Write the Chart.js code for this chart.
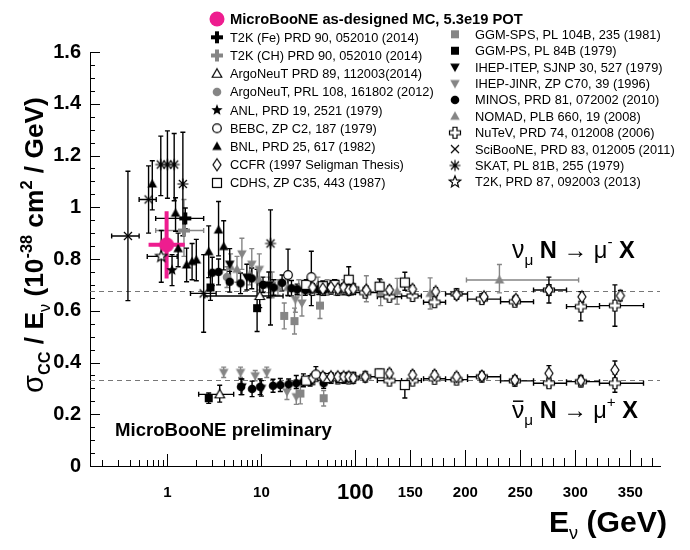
<!DOCTYPE html>
<html>
<head>
<meta charset="utf-8">
<script src="https://cdn.jsdelivr.net/npm/chart.js@4.4.1/dist/chart.umd.min.js"></script>
<style>
  body { margin: 0; background: #fff; }
  canvas { display: block; }
</style>
</head>
<body>
<canvas id="xsec" width="690" height="550"></canvas>
<script>
// rows: [E (GeV), sigma/E, err down, err up, E low, E high]
const UB = [[0.98, 0.855, 0.13, 0.13, 0.63, 1.53]]
const T2K_FE = [[1.55, 0.957, 0.04, 0.04, 0.75, 2.43]]
const T2K_CH = [[1.5, 0.91, 0.10, 0.12, 0.75, 2.43]]
const ARGONEUT_PRD = [[9.6, 0.657, 0.045, 0.05, 2.5, 17], [3.6, 0.277, 0.03, 0.035, 2.15, 5.07]]
const ARGONEUT_PRL = [[4.3, 0.73, 0.04, 0.04]]
const ANL = [[1.12, 0.757, 0.06, 0.06]]
const BEBC = [[19.2, 0.738, 0.08, 0.10], [34, 0.73, 0.11, 0.10], [38, 0.354, 0.025, 0.03]]
const BNL = [[0.69, 1.09, 0.10, 0.09], [1.22, 0.977, 0.07, 0.06], [1.3, 0.84, 0.07, 0.06],
    [1.6, 0.777, 0.065, 0.065], [1.83, 0.79, 0.07, 0.07], [2.03, 0.796, 0.08, 0.08],
    [2.75, 0.828, 0.10, 0.10], [3.5, 0.912, 0.10, 0.11], [3.97, 0.848, 0.09, 0.10]]
const CCFR_NU = [[35, 0.69, 0.015, 0.015], [45, 0.685, 0.015, 0.015], [55, 0.69, 0.015, 0.015],
    [65, 0.685, 0.015, 0.015], [75, 0.69, 0.015, 0.015], [85, 0.68, 0.015, 0.015],
    [95, 0.685, 0.015, 0.015], [110, 0.68, 0.015, 0.015], [131, 0.68, 0.015, 0.015],
    [152, 0.683, 0.015, 0.015], [173, 0.674, 0.015, 0.015], [192, 0.661, 0.015, 0.015],
    [217, 0.654, 0.015, 0.015], [246, 0.644, 0.015, 0.015], [276, 0.68, 0.02, 0.02],
    [306, 0.654, 0.02, 0.02], [341, 0.658, 0.02, 0.02]]
const CCFR_NUBAR = [[35, 0.34, 0.012, 0.012], [45, 0.345, 0.012, 0.012], [55, 0.345, 0.012, 0.012],
    [65, 0.345, 0.012, 0.012], [75, 0.345, 0.012, 0.012], [85, 0.345, 0.012, 0.012],
    [95, 0.34, 0.012, 0.012], [109, 0.345, 0.012, 0.012], [131, 0.358, 0.015, 0.015],
    [152, 0.352, 0.015, 0.015], [172, 0.352, 0.015, 0.015], [192, 0.345, 0.015, 0.015],
    [215, 0.348, 0.015, 0.015], [245, 0.332, 0.015, 0.015], [276, 0.358, 0.03, 0.03],
    [305, 0.33, 0.02, 0.02], [336, 0.371, 0.035, 0.035]]
const CDHS = [[30, 0.70, 0.02, 0.02], [45, 0.695, 0.02, 0.02], [60, 0.70, 0.02, 0.02],
    [85, 0.72, 0.03, 0.05], [122, 0.693, 0.03, 0.03], [145, 0.709, 0.03, 0.04],
    [30, 0.33, 0.015, 0.015], [50, 0.34, 0.015, 0.015], [70, 0.34, 0.015, 0.015],
    [90, 0.345, 0.015, 0.015], [122, 0.358, 0.015, 0.015], [145, 0.313, 0.05, 0.015]]
const GGM_SPS = [[17.5, 0.58, 0.05, 0.05], [22.5, 0.56, 0.05, 0.05], [42, 0.62, 0.05, 0.05],
    [26, 0.28, 0.04, 0.04], [46, 0.262, 0.03, 0.03]]
const GGM_PS = [[2.87, 0.69, 0.05, 0.05], [9, 0.61, 0.09, 0.15], [2.75, 0.262, 0.02, 0.02]]
const IHEP_ITEP = [[4.6, 0.78, 0.06, 0.06], [7, 0.73, 0.05, 0.05], [12, 0.70, 0.05, 0.05],
    [6.2, 0.306, 0.03, 0.03], [10, 0.30, 0.03, 0.03]]
const IHEP_JINR = [[6.2, 0.82, 0.06, 0.06], [7.9, 0.78, 0.06, 0.06], [9.5, 0.76, 0.06, 0.06],
    [13, 0.70, 0.05, 0.05], [23, 0.644, 0.05, 0.05], [27, 0.63, 0.05, 0.05],
    [3.97, 0.362, 0.02, 0.02], [6, 0.362, 0.02, 0.02], [8.6, 0.349, 0.02, 0.02],
    [11.4, 0.362, 0.02, 0.02], [18.7, 0.287, 0.03, 0.03], [23.5, 0.268, 0.03, 0.03]]
const MINOS_NU = [[3.0, 0.747, 0.05, 0.06], [3.5, 0.75, 0.05, 0.05], [4.6, 0.712, 0.04, 0.04],
    [6, 0.706, 0.04, 0.04], [7.9, 0.725, 0.04, 0.04], [10.4, 0.70, 0.03, 0.03],
    [13.5, 0.69, 0.03, 0.03], [16.6, 0.708, 0.03, 0.03], [20.9, 0.687, 0.03, 0.03],
    [24, 0.683, 0.02, 0.02], [29.3, 0.68, 0.02, 0.02], [34, 0.683, 0.02, 0.02],
    [40.8, 0.683, 0.02, 0.02], [46, 0.68, 0.02, 0.02]]
const MINOS_NUBAR = [[6.07, 0.306, 0.03, 0.03], [7.96, 0.298, 0.03, 0.03], [9.7, 0.306, 0.03, 0.03],
    [13.3, 0.31, 0.025, 0.025], [15.9, 0.313, 0.025, 0.025], [19.5, 0.316, 0.02, 0.02],
    [23.5, 0.32, 0.02, 0.03], [28, 0.326, 0.02, 0.03], [33, 0.329, 0.02, 0.02], [46, 0.32, 0.02, 0.03]]
const NOMAD = [[4.7, 0.77, 0.05, 0.05], [5.5, 0.76, 0.05, 0.05], [7.5, 0.74, 0.04, 0.04],
    [9.5, 0.72, 0.04, 0.04], [12, 0.70, 0.03, 0.03], [15, 0.69, 0.03, 0.03], [19, 0.69, 0.03, 0.03],
    [25, 0.69, 0.03, 0.03], [32, 0.695, 0.03, 0.03], [40, 0.70, 0.03, 0.03], [50, 0.69, 0.03, 0.03],
    [62, 0.69, 0.03, 0.03], [75, 0.69, 0.03, 0.03], [90, 0.69, 0.03, 0.03], [110, 0.685, 0.05, 0.05],
    [123, 0.67, 0.05, 0.05], [138, 0.675, 0.05, 0.05], [168, 0.667, 0.06, 0.06],
    [231, 0.719, 0.05, 0.06, 201, 303]]
const NUTEV_NU = [[35, 0.68, 0.015, 0.015], [45, 0.68, 0.015, 0.015], [55, 0.685, 0.015, 0.015],
    [65, 0.68, 0.015, 0.015], [75, 0.685, 0.015, 0.015], [85, 0.68, 0.015, 0.015],
    [95, 0.685, 0.015, 0.015], [109, 0.67, 0.015, 0.015, 100, 120], [131, 0.654, 0.015, 0.015, 120, 142],
    [152, 0.657, 0.015, 0.015, 142, 160], [172, 0.633, 0.015, 0.015, 162, 182],
    [192, 0.665, 0.015, 0.015, 182, 202], [215, 0.645, 0.015, 0.015, 202, 232],
    [245, 0.635, 0.015, 0.015, 232, 262], [276, 0.68, 0.05, 0.05, 262, 292],
    [305, 0.616, 0.055, 0.058, 292, 322], [336, 0.62, 0.08, 0.08, 322, 362]]
const NUTEV_NUBAR = [[35, 0.335, 0.012, 0.012], [45, 0.34, 0.012, 0.012], [55, 0.34, 0.012, 0.012],
    [65, 0.338, 0.012, 0.012], [75, 0.34, 0.012, 0.012], [85, 0.338, 0.012, 0.012],
    [95, 0.34, 0.012, 0.012], [109, 0.345, 0.012, 0.012, 100, 120], [131, 0.33, 0.012, 0.012, 120, 142],
    [152, 0.33, 0.012, 0.012, 142, 160], [172, 0.337, 0.012, 0.012, 162, 182],
    [192, 0.334, 0.012, 0.012, 182, 202], [215, 0.345, 0.012, 0.012, 202, 232],
    [245, 0.329, 0.012, 0.012, 232, 262], [276, 0.32, 0.015, 0.015, 262, 292],
    [305, 0.326, 0.015, 0.015, 292, 322], [336, 0.32, 0.035, 0.035, 322, 362]]
const SCIBOONE = [[0.38, 0.889, 0.25, 0.25, 0.255, 0.5], [0.63, 1.03, 0.13, 0.13, 0.5, 0.76],
    [2.43, 0.667, 0.15, 0.15, 1.76, 3.3]]
const SKAT = [[0.85, 1.165, 0.12, 0.11], [1.0, 1.165, 0.13, 0.13], [1.18, 1.165, 0.14, 0.12],
    [1.46, 1.09, 0.2, 0.2], [12.5, 0.86, 0.315, 0.13]]
const T2K_2013 = [[0.86, 0.81, 0.1, 0.1, 0.61, 1.27]]

const NU_AVG = 0.677
const NUBAR_AVG = 0.334

const X_LABELS = [1, 10, 100, 150, 200, 250, 300, 350]
const Y_LABEL_STEP = 0.2

const X_MIN = 0.15, X_MAX = 377
const GEV_PER_DECADE = 85.45   // width of one log decade, in GeV of the linear part

const FF = '"Liberation Sans", Arial, Helvetica, sans-serif'
const BLACK = '#000'
const GRAY = '#858585'
const PINK = '#ee1d8f'

// log below 100 GeV, linear above
function fwdE(e) { return e <= 100 ? Math.log10(e) : 2 + (e - 100) / GEV_PER_DECADE }
function invE(u) { return u <= 2 ? Math.pow(10, u) : 100 + (u - 2) * GEV_PER_DECADE }

let xTicks = []
for (let d = -1; d <= 1; d++) {
    for (let m = 1; m <= 9; m++) {
        const v = +(m * Math.pow(10, d)).toPrecision(3)
        if (v >= X_MIN) xTicks.push(v)
    }
}
for (let v = 100; v <= 370; v += 10) xTicks.push(v)

let yTicks = []
for (let i = 0; i <= 32; i++) yTicks.push(+(i * 0.05).toFixed(2))

class HybridScale extends Chart.Scale {
    determineDataLimits() { this.min = this.options.min; this.max = this.options.max }
    buildTicks() { return xTicks.map(v => ({ value: v, major: X_LABELS.includes(v) })) }
    getLabelForValue(v) { return String(v) }
    configure() {
        super.configure()
        this._u0 = fwdE(this.min)
        this._u1 = fwdE(this.max)
    }
    getPixelForValue(v) { return this.getPixelForDecimal((fwdE(v) - this._u0) / (this._u1 - this._u0)) }
    getValueForPixel(p) { return invE(this._u0 + this.getDecimalForPixel(p) * (this._u1 - this._u0)) }
}
HybridScale.id = 'hybrid'
HybridScale.defaults = {}
Chart.register(HybridScale)

// marker images
function marker(kind, color) {
    const s = 18, c = document.createElement('canvas')
    c.width = s; c.height = s
    const g = c.getContext('2d')
    g.translate(s / 2, s / 2)
    g.fillStyle = color; g.strokeStyle = color; g.lineWidth = 1.2
    const poly = (pts, open) => {
        g.beginPath()
        pts.forEach((p, i) => i ? g.lineTo(p[0], p[1]) : g.moveTo(p[0], p[1]))
        g.closePath()
        if (open) { g.fillStyle = '#fff'; g.fill(); g.stroke() } else g.fill()
    }
    const star = () => {
        let p = []
        for (let i = 0; i < 10; i++) {
            const r = i % 2 ? 2.6 : 6, a = -Math.PI / 2 + i * Math.PI / 5
            p.push([r * Math.cos(a), r * Math.sin(a)])
        }
        return p
    }
    if (kind == 'big') { g.beginPath(); g.arc(0, 0, 7.5, 0, 2 * Math.PI); g.fill() }
    if (kind == 'circle') { g.beginPath(); g.arc(0, 0, 4.3, 0, 2 * Math.PI); g.fill() }
    if (kind == 'ocircle') { g.beginPath(); g.arc(0, 0, 4.3, 0, 2 * Math.PI); g.fillStyle = '#fff'; g.fill(); g.stroke() }
    if (kind == 'square') g.fillRect(-4, -4, 8, 8)
    if (kind == 'osquare') { g.fillStyle = '#fff'; g.fillRect(-4.5, -4.5, 9, 9); g.strokeRect(-4.5, -4.5, 9, 9) }
    if (kind == 'tri') poly([[0, -5], [4.8, 3.5], [-4.8, 3.5]])
    if (kind == 'otri') poly([[0, -5], [4.8, 3.5], [-4.8, 3.5]], true)
    if (kind == 'dtri') poly([[0, 5], [4.8, -3.5], [-4.8, -3.5]])
    if (kind == 'diamond') poly([[0, -6], [4, 0], [0, 6], [-4, 0]], true)
    if (kind == 'star5') poly(star())
    if (kind == 'ostar5') poly(star(), true)
    if (kind == 'plus') { g.fillRect(-6, -2, 12, 4); g.fillRect(-2, -6, 4, 12) }
    if (kind == 'oplus') poly([[-2, -5.5], [2, -5.5], [2, -2], [5.5, -2], [5.5, 2], [2, 2], [2, 5.5],
        [-2, 5.5], [-2, 2], [-5.5, 2], [-5.5, -2], [-2, -2]], true)
    if (kind == 'x' || kind == 'ast') {
        g.beginPath()
        g.moveTo(-4, -4); g.lineTo(4, 4); g.moveTo(-4, 4); g.lineTo(4, -4)
        if (kind == 'ast') { g.moveTo(-5.5, 0); g.lineTo(5.5, 0); g.moveTo(0, -5.5); g.lineTo(0, 5.5) }
        g.stroke()
    }
    return c
}

// [label, rows, marker, colour, legend column, legend row]
const experiments = [
    ['MicroBooNE as-designed MC, 5.3e19 POT', UB, 'big', PINK, 0, 0],
    ['T2K (Fe) PRD 90, 052010 (2014)', T2K_FE, 'plus', BLACK, 0, 1],
    ['ArgoNeuT PRD 89, 112003(2014)', ARGONEUT_PRD, 'otri', BLACK, 0, 3],
    ['ANL, PRD 19, 2521 (1979)', ANL, 'star5', BLACK, 0, 5],
    ['BEBC, ZP C2, 187 (1979)', BEBC, 'ocircle', BLACK, 0, 6],
    ['BNL, PRD 25, 617 (1982)', BNL, 'tri', BLACK, 0, 7],
    ['CCFR (1997 Seligman Thesis)', CCFR_NU.concat(CCFR_NUBAR), 'diamond', BLACK, 0, 8],
    ['CDHS, ZP C35, 443 (1987)', CDHS, 'osquare', BLACK, 0, 9],
    ['GGM-PS, PL 84B (1979)', GGM_PS, 'square', BLACK, 1, 1],
    ['IHEP-ITEP, SJNP 30, 527 (1979)', IHEP_ITEP, 'dtri', BLACK, 1, 2],
    ['MINOS, PRD 81, 072002 (2010)', MINOS_NU.concat(MINOS_NUBAR), 'circle', BLACK, 1, 4],
    ['NuTeV, PRD 74, 012008 (2006)', NUTEV_NU.concat(NUTEV_NUBAR), 'oplus', BLACK, 1, 6],
    ['SciBooNE, PRD 83, 012005 (2011)', SCIBOONE, 'x', BLACK, 1, 7],
    ['SKAT, PL 81B, 255 (1979)', SKAT, 'ast', BLACK, 1, 8],
    ['T2K, PRD 87, 092003 (2013)', T2K_2013, 'ostar5', BLACK, 1, 9],
    ['T2K (CH) PRD 90, 052010 (2014)', T2K_CH, 'plus', GRAY, 0, 2],
    ['ArgoNeuT, PRL 108, 161802 (2012)', ARGONEUT_PRL, 'circle', GRAY, 0, 4],
    ['GGM-SPS, PL 104B, 235 (1981)', GGM_SPS, 'square', GRAY, 1, 0],
    ['IHEP-JINR, ZP C70, 39 (1996)', IHEP_JINR, 'dtri', GRAY, 1, 3],
    ['NOMAD, PLB 660, 19 (2008)', NOMAD, 'tri', GRAY, 1, 5]
]

const datasets = experiments.map(e => ({
    label: e[0],
    rows: e[1],
    data: e[1].map(r => ({ x: r[0], y: r[1] })),
    pointStyle: marker(e[2], e[3]),
    pointRadius: 4,
    showLine: false,
    color: e[3],
    legendCol: e[4],
    legendRow: e[5]
}))

// text with sub/superscripts, fitted to a width
function richWidth(ctx, segs, base) {
    let w = 0
    segs.forEach(s => {
        ctx.font = (s.b ? 'bold ' : '') + (base * (s.s || 1)) + 'px ' + FF
        w += ctx.measureText(s.t).width
    })
    return w
}
function drawRich(ctx, segs, base, x, y, width) {
    if (width) base = base * width / richWidth(ctx, segs, base)
    ctx.textAlign = 'left'
    ctx.textBaseline = 'alphabetic'
    segs.forEach(s => {
        const size = base * (s.s || 1)
        ctx.font = (s.b ? 'bold ' : '') + size + 'px ' + FF
        const w = ctx.measureText(s.t).width
        const yy = y + (s.dy || 0) * base
        ctx.fillText(s.t, x, yy)
        if (s.bar) {
            ctx.lineWidth = 1.5
            ctx.beginPath(); ctx.moveTo(x + 1, yy - size * 0.68); ctx.lineTo(x + w - 1, yy - size * 0.68); ctx.stroke()
        }
        x += w
    })
}
function fitFont(ctx, text, bold, width) {
    ctx.font = (bold ? 'bold ' : '') + '20px ' + FF
    return 20 * width / ctx.measureText(text).width
}

function errorBars(ctx, x, y, rows, color, w, cap) {
    ctx.strokeStyle = color
    ctx.lineWidth = w
    ctx.beginPath()
    rows.forEach(r => {
        const px = x.getPixelForValue(r[0]), py = y.getPixelForValue(r[1])
        const y0 = y.getPixelForValue(r[1] - r[2]), y1 = y.getPixelForValue(r[1] + r[3])
        ctx.moveTo(px, y0); ctx.lineTo(px, y1)
        if (cap) {
            ctx.moveTo(px - cap, y0); ctx.lineTo(px + cap, y0)
            ctx.moveTo(px - cap, y1); ctx.lineTo(px + cap, y1)
        }
        if (r[4] != null) {
            const x0 = x.getPixelForValue(r[4]), x1 = x.getPixelForValue(r[5])
            ctx.moveTo(x0, py); ctx.lineTo(x1, py)
            if (cap) {
                ctx.moveTo(x0, py - cap); ctx.lineTo(x0, py + cap)
                ctx.moveTo(x1, py - cap); ctx.lineTo(x1, py + cap)
            }
        }
    })
    ctx.stroke()
}

const decorations = {
    id: 'decorations',
    beforeDatasetsDraw(chart) {
        const ctx = chart.ctx, a = chart.chartArea, x = chart.scales.x, y = chart.scales.y
        ctx.save()
        ctx.strokeStyle = '#777'
        ctx.lineWidth = 1
        ctx.setLineDash([5, 4])
        ctx.beginPath()
        ;[NU_AVG, NUBAR_AVG].forEach(v => {
            const py = Math.round(y.getPixelForValue(v)) + 0.5
            ctx.moveTo(a.left, py); ctx.lineTo(a.right, py)
        })
        ctx.stroke()
        ctx.setLineDash([])
        for (let i = chart.data.datasets.length - 1; i >= 0; i--) {
            const ds = chart.data.datasets[i]
            if (ds.color == PINK) errorBars(ctx, x, y, ds.rows, PINK, 4, 0)
            else errorBars(ctx, x, y, ds.rows, ds.color, 1.4, 2.5)
        }
        ctx.restore()
    },
    afterDraw(chart) {
        const ctx = chart.ctx, a = chart.chartArea, x = chart.scales.x, y = chart.scales.y
        ctx.save()
        // inward tick marks
        ctx.strokeStyle = '#000'
        ctx.lineWidth = 1
        ctx.beginPath()
        x.ticks.forEach(t => {
            const px = Math.round(x.getPixelForValue(t.value)) + 0.5
            const len = t.value >= 100 ? (t.major ? 16 : 8) : (t.major ? 12 : 6)
            ctx.moveTo(px, a.bottom); ctx.lineTo(px, a.bottom - len)
        })
        y.ticks.forEach(t => {
            const py = Math.round(y.getPixelForValue(t.value)) + 0.5
            const major = Math.round(t.value * 100) % Math.round(Y_LABEL_STEP * 100) == 0
            ctx.moveTo(a.left, py); ctx.lineTo(a.left + (major ? 10 : 5), py)
        })
        ctx.stroke()

        // x tick labels
        ctx.fillStyle = '#000'
        ctx.textAlign = 'center'
        ctx.textBaseline = 'alphabetic'
        X_LABELS.forEach(v => {
            ctx.font = 'bold ' + (v == 100 ? 22 : 15) + 'px ' + FF
            ctx.fillText(String(v), x.getPixelForValue(v), v == 100 ? 499 : 497)
        })

        // axis titles
        drawRich(ctx, [{ t: 'E', b: true }, { t: 'ν', s: 0.6, dy: 0.22 }, { t: ' (GeV)', b: true }], 29, 549, 532, 118)
        ctx.save()
        ctx.translate(43, 245)
        ctx.rotate(-Math.PI / 2)
        const ySegs = [{ t: 'σ', s: 1.1 }, { t: 'CC', s: 0.62, b: true, dy: 0.25 }, { t: ' / E', b: true },
            { t: 'ν', s: 0.62, dy: 0.25 }, { t: ' (10', b: true }, { t: '-38', s: 0.62, b: true, dy: -0.42 },
            { t: ' cm', b: true }, { t: '2', s: 0.62, b: true, dy: -0.42 }, { t: ' / GeV)', b: true }]
        drawRich(ctx, ySegs, 24, -148, 0, 296)
        ctx.restore()

        // reaction labels
        drawRich(ctx, [{ t: 'ν', s: 1.05 }, { t: 'μ', s: 0.65, dy: 0.3 }, { t: ' N ', b: true }, { t: '→' },
            { t: ' μ' }, { t: '-', s: 0.65, dy: -0.45 }, { t: ' X', b: true }], 21, 512, 258, 123)
        ctx.strokeStyle = '#000'
        drawRich(ctx, [{ t: 'ν', s: 1.05, bar: true }, { t: 'μ', s: 0.65, dy: 0.3 }, { t: ' N ', b: true }, { t: '→' },
            { t: ' μ' }, { t: '+', s: 0.65, dy: -0.45 }, { t: ' X', b: true }], 21, 512, 418, 126)

        ctx.font = 'bold ' + fitFont(ctx, 'MicroBooNE preliminary', true, 217) + 'px ' + FF
        ctx.textAlign = 'left'
        ctx.fillText('MicroBooNE preliminary', 115, 436)

        // legend
        const colMarkX = [217, 455], colTextX = [230, 475]
        const col0 = [19, 37.3, 55.5, 73.7, 91.9, 110.1, 128.3, 146.5, 164.7, 182.9]
        const col1 = [34.3, 50.7, 67.1, 83.5, 99.9, 116.3, 132.7, 149.1, 165.5, 181.9]
        const size0 = fitFont(ctx, 'T2K (Fe) PRD 90, 052010 (2014)', false, 189)
        const size1 = fitFont(ctx, 'SciBooNE, PRD 83, 012005 (2011)', false, 200)
        const sizeHead = fitFont(ctx, 'MicroBooNE as-designed MC, 5.3e19 POT', true, 293)
        ctx.textBaseline = 'middle'
        chart.data.datasets.forEach(ds => {
            const c = ds.legendCol, yy = (c ? col1 : col0)[ds.legendRow]
            ctx.drawImage(ds.pointStyle, colMarkX[c] - 9, yy - 9)
            const head = ds.color == PINK
            ctx.font = (head ? 'bold ' + sizeHead : (c ? size1 : size0)) + 'px ' + FF
            ctx.fillStyle = '#000'
            ctx.fillText(ds.label, colTextX[c], yy + 1)
        })
        ctx.restore()
    }
}

const ctx = document.getElementById('xsec').getContext('2d')
const chart = new Chart(ctx, {
    type: 'scatter',
    data: { datasets: datasets },
    options: {
        responsive: false,
        animation: false,
        events: [],
        layout: { padding: { top: 52, right: 30, left: 0, bottom: 0 } },
        plugins: { legend: { display: false }, tooltip: { enabled: false } },
        scales: {
            x: {
                type: 'hybrid',
                position: 'bottom',
                min: X_MIN,
                max: X_MAX,
                grid: { display: false, drawTicks: false },
                border: { color: '#000', width: 1 },
                ticks: { display: false },
                afterFit: s => { s.height = 84 }
            },
            y: {
                min: 0,
                max: 1.6,
                grid: { display: false, drawTicks: false },
                border: { color: '#000', width: 1 },
                afterBuildTicks: s => { s.ticks = yTicks.map(v => ({ value: v })) },
                ticks: {
                    autoSkip: false,
                    padding: 9,
                    color: '#000',
                    font: { family: FF, size: 20, weight: 'bold' },
                    callback: v => Math.round(v * 100) % Math.round(Y_LABEL_STEP * 100) == 0 ? String(+v.toFixed(1)) : ''
                },
                afterFit: s => { s.width = 90 }
            }
        }
    },
    plugins: [decorations]
})
</script>
</body>
</html>
